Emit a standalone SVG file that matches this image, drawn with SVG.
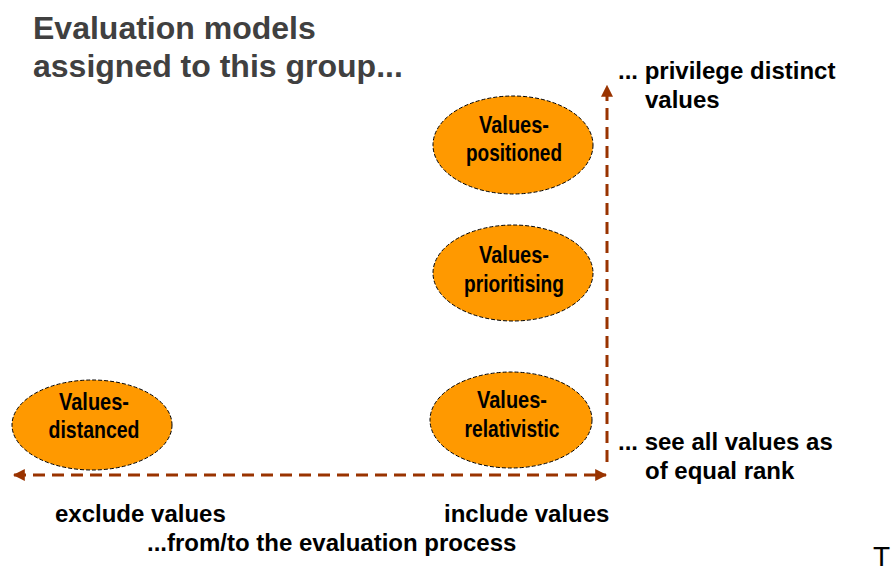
<svg xmlns="http://www.w3.org/2000/svg" width="891" height="566" viewBox="0 0 891 566">
<defs>
<style>
.node ellipse{fill:#ff9900;stroke:#000;stroke-width:1;stroke-dasharray:4 2}
.node text{font-family:"Liberation Sans",Arial,sans-serif;font-weight:bold;font-size:24px;text-anchor:middle;fill:#000}
.conn{fill:none;stroke:#993300;stroke-width:3;stroke-dasharray:12 7}
.lbl{font-family:"Liberation Sans",Arial,sans-serif;font-weight:bold;font-size:24px;fill:#000}
.title{font-family:"Liberation Sans",Arial,sans-serif;font-weight:bold;font-size:32px;fill:#404040}
</style>
<marker id="ah" viewBox="0 0 10 10" refX="9" refY="5" markerWidth="4" markerHeight="4" orient="auto-start-reverse" markerUnits="strokeWidth">
<path d="M0,0 L10,5 L0,10 z" fill="#993300"/>
</marker>
</defs>
<rect width="891" height="566" fill="#fff"/>
<text class="title" x="33" y="39">Evaluation models</text>
<text class="title" x="33" y="77">assigned to this group...</text>
<g id="connectors">
<line class="conn" x1="607" y1="462" x2="607" y2="86" marker-end="url(#ah)"/>
<line class="conn" x1="14" y1="475" x2="606" y2="475" marker-start="url(#ah)" marker-end="url(#ah)"/>
</g>
<g id="n-positioned" class="node">
<ellipse cx="513" cy="145" rx="80" ry="49"/>
<text x="514" y="133" textLength="70" lengthAdjust="spacingAndGlyphs">Values-</text>
<text x="514" y="161" textLength="96" lengthAdjust="spacingAndGlyphs">positioned</text>
</g>
<g id="n-prioritising" class="node">
<ellipse cx="513" cy="273" rx="80" ry="48"/>
<text x="514" y="263" textLength="70" lengthAdjust="spacingAndGlyphs">Values-</text>
<text x="514" y="292" textLength="100" lengthAdjust="spacingAndGlyphs">prioritising</text>
</g>
<g id="n-relativistic" class="node">
<ellipse cx="511" cy="420" rx="81" ry="48"/>
<text x="512" y="408" textLength="70" lengthAdjust="spacingAndGlyphs">Values-</text>
<text x="512" y="437" textLength="95" lengthAdjust="spacingAndGlyphs">relativistic</text>
</g>
<g id="n-distanced" class="node">
<ellipse cx="92" cy="425" rx="80" ry="45"/>
<text x="94" y="410" textLength="70" lengthAdjust="spacingAndGlyphs">Values-</text>
<text x="94" y="438" textLength="91" lengthAdjust="spacingAndGlyphs">distanced</text>
</g>
<text class="lbl" x="618" y="79">... privilege distinct</text>
<text class="lbl" x="645" y="108">values</text>
<text class="lbl" x="618" y="450">... see all values as</text>
<text class="lbl" x="645" y="479">of equal rank</text>
<text class="lbl" x="55" y="522">exclude values</text>
<text class="lbl" x="444" y="522">include values</text>
<text class="lbl" x="147" y="551">...from/to the evaluation process</text>
<text x="873" y="566" font-family="Liberation Sans, Arial, sans-serif" font-size="28" fill="#000">T</text>
</svg>
